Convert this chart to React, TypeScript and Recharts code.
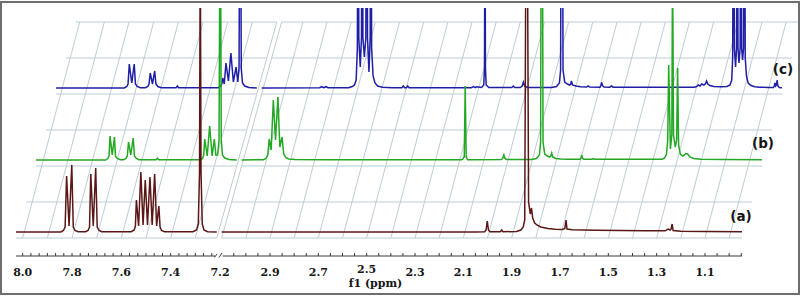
import React from 'react';
import { ComposedChart, Line, XAxis, YAxis, ReferenceLine, ReferenceDot } from 'recharts';

type Pt = [number, number];

// ---------- DATA: [chemical shift (ppm), intensity] ----------
// (a) — front spectrum
const A_LEFT: Pt[] = [
  [8.027, 0], [7.845, 0], [7.835, 1.5], [7.828, 5], [7.822, 56], [7.812, 6], [7.801, 67], [7.795, 5], [7.788, 1.5], [7.775, 0.3],
  [7.745, 0.3], [7.735, 1.5], [7.729, 5], [7.724, 58], [7.714, 6], [7.704, 64], [7.698, 5], [7.69, 1.5], [7.68, 0.3],
  [7.56, 0.3], [7.548, 2], [7.543, 6], [7.539, 32], [7.53, 6], [7.521, 60], [7.512, 7], [7.503, 52], [7.494, 7], [7.484, 55],
  [7.475, 7], [7.465, 58], [7.457, 6], [7.448, 26], [7.443, 5], [7.437, 1.5], [7.425, 0.3],
  [7.31, 0.3], [7.295, 2], [7.288, 8], [7.283, 60], [7.28, 300], [7.277, 60], [7.272, 8], [7.265, 2], [7.25, 0.3], [7.213, 0],
];
const A_RIGHT: Pt[] = [
  [3.1, 0], [2.05, 0], [2.012, 0.3], [2.006, 2], [2.001, 11], [1.996, 2], [1.99, 0.3], [1.947, 0.3], [1.941, 2], [1.936, 0.3],
  [1.88, 0.5], [1.862, 2], [1.852, 5], [1.846, 12], [1.841, 300], [1.835, 300], [1.83, 30], [1.823, 18], [1.818, 24], [1.813, 14],
  [1.805, 9], [1.795, 7], [1.78, 5], [1.75, 3.5], [1.72, 2.8], [1.69, 2.5], [1.68, 3.5], [1.675, 12], [1.671, 3], [1.65, 2.2],
  [1.55, 1.8], [1.45, 1.5], [1.35, 1.2], [1.265, 1.2], [1.253, 3], [1.244, 2], [1.24, 3], [1.236, 8], [1.232, 1.5], [1.2, 0.8],
  [1.1, 0.5], [0.947, 0.3],
];
// (b) — middle spectrum
const B_LEFT: Pt[] = [
  [8.027, 0], [7.745, 0], [7.736, 1.5], [7.731, 4], [7.727, 24], [7.718, 5], [7.709, 23], [7.705, 4], [7.698, 1.5], [7.685, 0.3],
  [7.672, 0.3], [7.662, 1.5], [7.657, 4], [7.652, 18], [7.643, 5], [7.633, 22], [7.628, 4], [7.62, 1.5], [7.61, 0.3],
  [7.54, 0.3], [7.535, 1.8], [7.53, 0.3],
  [7.362, 0.3], [7.352, 1.5], [7.347, 5], [7.343, 21], [7.333, 4], [7.323, 34], [7.313, 4], [7.304, 21], [7.298, 5], [7.291, 5],
  [7.285, 20], [7.28, 300], [7.276, 20], [7.271, 5], [7.262, 2], [7.245, 0.5], [7.213, 0],
];
const B_RIGHT: Pt[] = [
  [3.1, 0], [3.01, 0.3], [3.0, 1.5], [2.992, 5], [2.986, 21], [2.978, 10], [2.969, 60], [2.96, 20], [2.95, 63], [2.942, 13],
  [2.933, 23], [2.926, 6], [2.918, 2.5], [2.905, 1], [2.88, 0.5], [2.75, 0.3],
  [2.19, 0.3], [2.185, 1], [2.179, 3], [2.175, 74], [2.171, 3], [2.165, 0.3],
  [2.025, 0.5], [2.019, 2], [2.015, 5], [2.011, 2], [2.005, 0.5],
  [1.9, 0.5], [1.88, 1.5], [1.868, 5], [1.863, 18], [1.86, 300], [1.856, 300], [1.853, 18], [1.846, 6], [1.835, 4], [1.826, 3],
  [1.821, 4], [1.817, 7], [1.813, 3], [1.8, 1.5], [1.78, 1], [1.75, 0.8],
  [1.7, 0.8], [1.696, 2], [1.693, 5], [1.69, 2], [1.685, 0.8], [1.65, 0.8], [1.645, 1.5], [1.64, 0.8],
  [1.36, 0.8], [1.35, 2], [1.342, 6], [1.337, 20], [1.333, 95], [1.326, 11], [1.32, 25], [1.317, 200], [1.313, 25], [1.306, 13],
  [1.3, 20], [1.296, 92], [1.292, 15], [1.285, 6], [1.275, 4], [1.268, 5], [1.262, 6.5], [1.255, 6], [1.245, 3], [1.23, 1.5],
  [1.2, 0.8], [1.1, 0.5], [0.947, 0.3],
];
// (c) — back spectrum
const C_LEFT: Pt[] = [
  [8.027, 0], [7.75, 0], [7.74, 1.5], [7.735, 4], [7.73, 24], [7.72, 5], [7.71, 24], [7.705, 4], [7.698, 1.5], [7.685, 0.3],
  [7.665, 0.3], [7.655, 1.5], [7.65, 4], [7.645, 15], [7.636, 4], [7.627, 17], [7.622, 4], [7.614, 1.5], [7.6, 0.3],
  [7.54, 0.3], [7.535, 2], [7.53, 0.3],
  [7.37, 0.3], [7.361, 1.5], [7.355, 4], [7.351, 10], [7.345, 4], [7.338, 25], [7.328, 7], [7.318, 35], [7.308, 6], [7.297, 21],
  [7.29, 6], [7.285, 20], [7.28, 300], [7.276, 20], [7.271, 5], [7.262, 2], [7.245, 0.5], [7.213, 0],
];
const C_RIGHT: Pt[] = [
  [3.1, 0], [2.86, 0.3], [2.852, 1.3], [2.843, 0.3], [2.834, 1.3], [2.825, 0.3],
  [2.74, 0.3], [2.725, 1.5], [2.716, 3], [2.709, 8], [2.704, 40], [2.701, 300], [2.698, 50], [2.692, 21], [2.687, 50], [2.684, 300],
  [2.681, 50], [2.675, 31], [2.669, 50], [2.665, 300], [2.662, 50], [2.656, 16], [2.651, 50], [2.648, 300], [2.645, 40], [2.639, 12],
  [2.631, 5], [2.62, 2], [2.6, 0.8], [2.56, 0.3],
  [2.52, 0.3], [2.514, 2], [2.508, 0.3], [2.501, 0.3], [2.496, 2], [2.49, 0.3],
  [2.232, 0.3], [2.224, 1.3], [2.217, 0.3], [2.21, 1.3], [2.19, 0.5], [2.181, 3], [2.178, 20], [2.176, 200], [2.174, 20], [2.171, 3],
  [2.16, 0.5], [2.065, 0.5], [2.059, 2], [2.053, 0.5], [2.03, 0.5], [2.022, 2], [2.017, 6], [2.012, 2], [2.0, 0.5],
  [1.9, 0.5], [1.88, 1.5], [1.868, 5], [1.863, 18], [1.86, 300], [1.856, 300], [1.853, 18], [1.846, 6], [1.835, 4], [1.826, 3],
  [1.821, 4], [1.818, 7], [1.814, 3], [1.8, 2], [1.78, 1.2], [1.755, 1], [1.749, 2], [1.743, 1],
  [1.7, 0.8], [1.696, 2.5], [1.693, 5.5], [1.69, 2.5], [1.684, 1], [1.66, 0.8], [1.652, 2], [1.646, 0.8],
  [1.31, 0.8], [1.3, 1.5], [1.293, 3], [1.286, 2], [1.279, 4], [1.27, 3], [1.263, 4.5], [1.259, 7], [1.254, 4], [1.245, 2.5],
  [1.23, 1.5], [1.2, 1.2], [1.175, 1.5], [1.162, 3], [1.155, 8],
  [1.151, 30], [1.147, 300], [1.144, 40], [1.139, 21], [1.135, 40], [1.132, 300], [1.129, 40], [1.125, 25], [1.12, 40], [1.117, 300],
  [1.114, 40], [1.11, 28], [1.106, 40], [1.103, 300], [1.099, 30], [1.094, 12], [1.087, 5], [1.075, 2.5], [1.06, 1.2], [1.04, 0.8],
  [1.0, 0.5], [0.982, 0.5], [0.979, 2], [0.976, 5], [0.973, 2], [0.97, 3], [0.967, 8], [0.964, 2], [0.958, 0.5], [0.947, 0.3],
];

const SPECTRUM_NAMES = ['(a)', '(b)', '(c)'];
const LEFT_TICK_LABELS = [8.0, 7.8, 7.6, 7.4, 7.2];
const RIGHT_TICK_LABELS = [2.9, 2.7, 2.5, 2.3, 2.1, 1.9, 1.7, 1.5, 1.3, 1.1];
const RAISED_TICK_LABEL = 2.5; // sits slightly higher, just above the axis title
const LEFT_GRID_PPM = [8.0, 7.9, 7.8, 7.7, 7.6, 7.5, 7.4, 7.3];
const RIGHT_GRID_PPM = [3.0, 2.9, 2.8, 2.7, 2.6, 2.5, 2.4, 2.3, 2.2, 2.1, 2.0, 1.9, 1.8, 1.7, 1.6, 1.5, 1.4, 1.3, 1.2, 1.1, 1.0];
const LEFT_SEGMENT: [number, number] = [8.027, 7.213];
const RIGHT_SEGMENT: [number, number] = [3.1, 0.947];
const LEFT_AXIS_END = 7.22;
const RIGHT_AXIS_START = 3.096;

// ---------- LAYOUT ----------
const CHART_W = 802;
const CHART_H = 296;
const AXIS_H = 1;
const MARGIN = { top: 8, right: 4, bottom: 38, left: 0 };
const PLOT_W = CHART_W - MARGIN.left - MARGIN.right;
const AXIS_Y = CHART_H - MARGIN.bottom - 2 * AXIS_H;
// scale anchors of the two axis segments: ppm value, pixel, px per ppm
const L_ANCHOR = { ppm: 8.0, px: 22.7, scale: (220 - 22.7) / 0.8 };
const R_ANCHOR = { ppm: 2.9, px: 270, scale: (705 - 270) / 1.8 };
const L_DOMAIN: [number, number] = [L_ANCHOR.ppm - (PLOT_W - L_ANCHOR.px) / L_ANCHOR.scale, L_ANCHOR.ppm + L_ANCHOR.px / L_ANCHOR.scale];
const R_DOMAIN: [number, number] = [R_ANCHOR.ppm - (PLOT_W - R_ANCHOR.px) / R_ANCHOR.scale, R_ANCHOR.ppm + R_ANCHOR.px / R_ANCHOR.scale];
const PPM_PER_PX = { L: 1 / L_ANCHOR.scale, R: 1 / R_ANCHOR.scale };
const Y_DOMAIN: [number, number] = [-24, 224];
const LEVEL_DY = 72;
const LEVEL_DX_PX = 20;
const ROW_DY = 36;
const ROW_DX_PX = 10;
const GRID_Y0 = -6;
const GRID_ROWS = 6;
const SLANT_DX_PX = 57;

const COLORS = ['#5b1616', '#22a822', '#1e1ea6'];
const GRID_COLOR = '#bfcdd4';
const AXIS_COLOR = '#3a3a3a';
const TEXT_COLOR = '#151515';

type Seg = 'L' | 'R';
const toSeries = (pts: Pt[], level: number, seg: Seg) =>
  pts.map(([ppm, v]) => ({ x: ppm - level * LEVEL_DX_PX * PPM_PER_PX[seg], y: v + level * LEVEL_DY }));

const SPECTRA = [
  { left: A_LEFT, right: A_RIGHT },
  { left: B_LEFT, right: B_RIGHT },
  { left: C_LEFT, right: C_RIGHT },
];

// grid (skewed, pseudo-3D)
const gridLines: { seg: Seg; pts: { x: number; y: number }[] }[] = [];
(['L', 'R'] as Seg[]).forEach((seg) => {
  const [s0, s1] = seg === 'L' ? LEFT_SEGMENT : RIGHT_SEGMENT;
  const k = PPM_PER_PX[seg];
  for (let j = 0; j <= GRID_ROWS; j++) {
    const d = j * ROW_DX_PX * k;
    gridLines.push({ seg, pts: [{ x: s0 - d, y: GRID_Y0 + j * ROW_DY }, { x: s1 - d, y: GRID_Y0 + j * ROW_DY }] });
  }
  const ppms = seg === 'L' ? LEFT_GRID_PPM : RIGHT_GRID_PPM;
  ppms.forEach((p) => {
    gridLines.push({ seg, pts: [{ x: p, y: GRID_Y0 }, { x: p - SLANT_DX_PX * k, y: GRID_Y0 + GRID_ROWS * ROW_DY }] });
  });
  const edge = seg === 'L' ? s1 : s0;
  gridLines.push({ seg, pts: [{ x: edge, y: GRID_Y0 }, { x: edge - GRID_ROWS * ROW_DX_PX * k, y: GRID_Y0 + GRID_ROWS * ROW_DY }] });
});

const leftTicks = Array.from({ length: 25 }, (_, i) => +(8.0 - i / 30).toFixed(5));
const rightTicks = Array.from({ length: 43 }, (_, i) => +(3.05 - i * 0.05).toFixed(5));

const SERIF = "'DejaVu Serif', 'Liberation Serif', serif";
const SANS = "'DejaVu Sans', 'Liberation Sans', sans-serif";

const makeTick = (labels: number[], lo: number, hi: number) => (props: any) => {
  const { x, payload } = props;
  const v = payload.value as number;
  const major = labels.some((m) => Math.abs(m - v) < 1e-6);
  const onLine = v >= lo - 1e-6 && v <= hi + 1e-6;
  const raised = Math.abs(v - RAISED_TICK_LABEL) < 1e-6;
  return (
    <g>
      {onLine && <line x1={x} x2={x} y1={AXIS_Y} y2={AXIS_Y - 3} stroke={AXIS_COLOR} strokeWidth={1} />}
      {major && (
        <text x={x} y={AXIS_Y + (raised ? 17 : 20)} textAnchor="middle" fontFamily={SERIF} fontWeight="bold" fontSize={11} fill={TEXT_COLOR}>
          {v.toFixed(1)}
        </text>
      )}
    </g>
  );
};

const pxToPpmR = (px: number) => R_ANCHOR.ppm - (px - R_ANCHOR.px) * PPM_PER_PX.R;
const pxToPpmL = (px: number) => L_ANCHOR.ppm - (px - L_ANCHOR.px) * PPM_PER_PX.L;
const pxToY = (py: number) => Y_DOMAIN[1] - (py - MARGIN.top);

const textShape = (txt: string, font: string, size: number) => (p: any) => (
  <text x={p.cx} y={p.cy} textAnchor="middle" fontFamily={font} fontWeight="bold" fontSize={size} fill={TEXT_COLOR}>
    {txt}
  </text>
);

const LABEL_POS = [
  { x: 741, y: 221 },
  { x: 763, y: 148 },
  { x: 783, y: 74 },
];

export default function App() {
  return (
    <div style={{ position: 'absolute', left: 0, top: 0, width: CHART_W, height: CHART_H, background: '#fff' }}>
      <ComposedChart width={CHART_W} height={CHART_H} margin={MARGIN}>
        <XAxis
          xAxisId="L" type="number" dataKey="x" domain={L_DOMAIN} reversed allowDataOverflow
          height={AXIS_H} ticks={leftTicks} interval={0}
          tick={makeTick(LEFT_TICK_LABELS, LEFT_AXIS_END, LEFT_SEGMENT[0])} tickLine={false} axisLine={false} tickSize={0} tickMargin={0}
        />
        <XAxis
          xAxisId="R" type="number" dataKey="x" domain={R_DOMAIN} reversed allowDataOverflow
          height={AXIS_H} ticks={rightTicks} interval={0}
          tick={makeTick(RIGHT_TICK_LABELS, RIGHT_SEGMENT[1], RIGHT_AXIS_START)} tickLine={false} axisLine={false} tickSize={0} tickMargin={0}
        />
        <YAxis type="number" domain={Y_DOMAIN} hide allowDataOverflow width={0} />

        {gridLines.map((g, i) => (
          <Line
            key={'grid' + i} xAxisId={g.seg} data={g.pts} dataKey="y" type="linear" stroke={GRID_COLOR}
            strokeWidth={1} dot={false} activeDot={false} isAnimationActive={false} legendType="none"
          />
        ))}

        {[2, 1, 0].map((level) =>
          (['L', 'R'] as Seg[]).map((seg) => (
            <Line
              key={SPECTRUM_NAMES[level] + seg} xAxisId={seg}
              data={toSeries(seg === 'L' ? SPECTRA[level].left : SPECTRA[level].right, level, seg)}
              dataKey="y" type="linear" stroke={COLORS[level]} strokeWidth={1.5} dot={false} activeDot={false}
              isAnimationActive={false} name={SPECTRUM_NAMES[level]}
            />
          ))
        )}

        <ReferenceLine xAxisId="L" segment={[{ x: LEFT_SEGMENT[0], y: Y_DOMAIN[0] }, { x: LEFT_AXIS_END, y: Y_DOMAIN[0] }]} stroke={AXIS_COLOR} ifOverflow="visible" />
        <ReferenceLine xAxisId="R" segment={[{ x: RIGHT_AXIS_START, y: Y_DOMAIN[0] }, { x: RIGHT_SEGMENT[1], y: Y_DOMAIN[0] }]} stroke={AXIS_COLOR} ifOverflow="visible" />
        <ReferenceLine xAxisId="L" segment={[{ x: pxToPpmL(214.5), y: pxToY(257.5) }, { x: pxToPpmL(217), y: pxToY(254) }]} stroke={AXIS_COLOR} ifOverflow="visible" />
        <ReferenceLine xAxisId="L" segment={[{ x: pxToPpmL(219), y: pxToY(257.5) }, { x: pxToPpmL(222), y: pxToY(253) }]} stroke={AXIS_COLOR} ifOverflow="visible" />

        {LABEL_POS.map((p, i) => (
          <ReferenceDot
            key={'lab' + i} xAxisId="R" x={pxToPpmR(p.x)} y={pxToY(p.y)} r={0} ifOverflow="visible"
            shape={textShape(SPECTRUM_NAMES[i], SANS, 13.5)}
          />
        ))}
        <ReferenceDot xAxisId="R" x={pxToPpmR(375.5)} y={pxToY(287)} r={0} ifOverflow="visible" shape={textShape('f1 (ppm)', SERIF, 11)} />
      </ComposedChart>
      <div
        style={{
          position: 'absolute', left: 0, top: 1, width: 800, height: 294, border: '2px solid #6e6e6e',
          boxSizing: 'border-box', pointerEvents: 'none', boxShadow: '2px 0 0 #fff',
        }}
      />
    </div>
  );
}
